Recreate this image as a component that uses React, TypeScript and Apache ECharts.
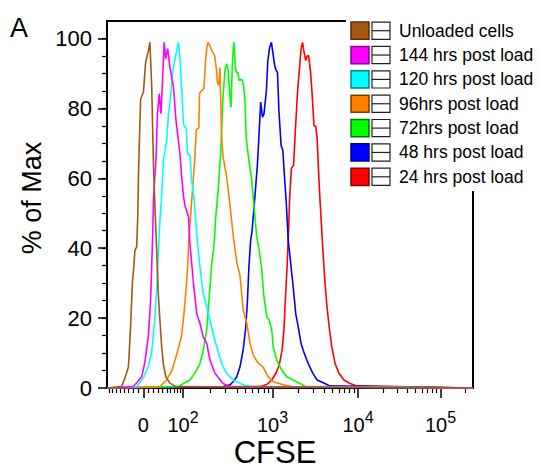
import React, { useEffect, useRef } from 'react';
import * as echarts from 'echarts';

// ---------- data (x = display channel on the biexponential CFSE scale, y = % of max) ----------
const SERIES_NAMES = [
  'Unloaded cells',
  '144 hrs post load',
  '120 hrs post load',
  '96hrs post load',
  '72hrs post load',
  '48 hrs post load',
  '24 hrs post load',
];
const SERIES_COLORS = ['#A5570F', '#FF00FF', '#00FFFF', '#FF8000', '#00FF00', '#0000FF', '#FF0000'];
const LEGEND_BORDERS = ['#5A2E05', '#8A008A', '#008A8A', '#7A3D00', '#007A00', '#000080', '#800000'];

const unloaded = [[0,0],[41,0.4],[53,3.7],[60,6.1],[66,17.5],[71,30],[75,34.7],[78,39.4],[83,40.4],[86,48.9],[88,60.9],[94,82.6],[102,84.7],[108,93.1],[116,96.6],[120,98.9],[125,86.6],[130,63.7],[134,52.3],[139,39.4],[143,28],[148,19.4],[153,11.8],[158,6.6],[165,3.1],[176,1.4],[193,0.4],[1024,0]];
const hrs144 = [[0,0],[74,0.4],[87,2.0],[97,3.2],[106,7.4],[116,15.1],[122,25.1],[125,34.7],[128,44.2],[130,53.7],[134,60.9],[137,65.1],[141,78],[146,84.2],[151,78.5],[155,87.1],[160,98.9],[164,94.2],[170,97.1],[176,91.8],[186,86.1],[193,76.6],[198,72.3],[204,67.1],[209,60.4],[214,54.7],[218,52.3],[228,48.9],[232,41.3],[242,29.9],[251,21.3],[260,18.5],[269,14.7],[279,12.8],[288,8],[302,4.2],[325,1.3],[344,0.4],[1024,0]];
const hrs120 = [[0,0],[83,0.4],[102,2.9],[116,6.3],[125,10.3],[134,20.1],[140,30],[144,39.4],[148,48],[153,55.1],[158,65.1],[167,70.9],[172,78.5],[178,83.2],[184,90.9],[188,92.8],[195,96.6],[200,98.9],[204,94.6],[209,85.7],[214,75.6],[218,74.7],[222,74.3],[225,67.1],[232,66.6],[237,59.4],[244,53.7],[251,44.2],[260,34.7],[269,27.1],[279,23.2],[288,19.4],[297,15.6],[307,11.8],[321,7],[335,4.2],[353,2.3],[381,0.9],[405,0.4],[1024,0]];
const hrs96 = [[0,0],[148,0.4],[167,2.3],[182,5.1],[197,10.3],[209,15.1],[215,20.9],[221,28],[225,33.7],[229,42.3],[234,49.4],[240,57.7],[246,66],[250,74],[257,74.4],[259,84.3],[265,85.1],[271,85.7],[276,93.7],[279,97.4],[283,98.9],[289,97.7],[294,96.3],[301,95.1],[306,91.4],[309,87.4],[313,86.6],[316,91.7],[321,70.9],[325,66],[335,60.3],[344,52.3],[353,43.7],[363,36],[372,32.3],[381,22.3],[391,18.6],[400,12.9],[409,9.4],[423,7.1],[437,6],[451,3.2],[465,1.8],[493,0.9],[517,0.4],[1024,0]];
const hrs72 = [[0,0],[200,0.4],[214,1.3],[232,2.3],[246,4.2],[260,7],[269,10.6],[279,16.6],[286,26.1],[293,35.6],[299,40.4],[305,49.9],[311,56.6],[318,67.1],[324,82.3],[330,90.9],[335,92.8],[339,90.9],[344,83.2],[347,80.3],[351,93.7],[355,98.9],[360,90.9],[363,90.3],[366,90.3],[369,88],[377,88.3],[382,86.6],[386,82.3],[390,70.9],[397,65.1],[405,59.4],[411,52.3],[419,43.2],[426,39.4],[433,33.7],[439,26.1],[447,20.4],[454,19.4],[461,16.6],[465,11.8],[475,8],[489,5.1],[503,3.2],[521,2.3],[540,1.3],[554,0.5],[1024,0]];
const hrs48 = [[0,0],[325,0.4],[344,0.9],[353,1.8],[363,3.2],[372,6],[381,10.9],[388,17.1],[393,25.1],[397,34.7],[402,42.3],[406,45.1],[413,53.7],[421,64.2],[426,73.7],[430,81.8],[435,77.5],[439,78.3],[446,85.1],[450,93.7],[455,97.4],[460,98.9],[464,96],[469,92.3],[473,90.9],[477,90.3],[481,79.4],[487,69.4],[492,68],[496,61.4],[502,52.3],[507,42.3],[514,35.6],[521,28.9],[528,21.3],[535,17.5],[543,12.7],[552,9.9],[563,7],[576,4.2],[588,2.3],[605,1.5],[624,0.6],[1024,0]];
const hrs24 = [[0,0],[428,0.4],[447,1],[461,2.3],[473,4.3],[482,6.6],[490,10.9],[495,16.6],[499,25.1],[504,35.1],[508,45.1],[511,54.3],[516,62.9],[522,63.7],[527,73.7],[533,84.6],[539,92],[543,97.1],[547,98.9],[551,96.3],[556,93.7],[560,95],[564,95.1],[569,90.9],[574,84],[579,75.1],[584,74.9],[588,71.4],[592,61.7],[596,53.7],[604,39.4],[610,30],[615,23.7],[622,17.1],[629,11.7],[638,7],[649,4.2],[663,2.3],[680,1.3],[699,0.6],[1024,0]];
const SERIES_DATA = [unloaded, hrs144, hrs120, hrs96, hrs72, hrs48, hrs24];

// ---------- biexponential axis definition ----------
const CHANNEL_MAX = 1024;
const ANCHOR_VALUES = [0, 1e2, 1e3, 1e4, 1e5];
const ANCHOR_CHANNELS = [101.6, 212.6, 463, 702.2, 933.1];
const LINEAR_WIDTH = 60;
const MAJOR_LABELS = ['{b|0}', '{b|10}{s|2}', '{b|10}{s|3}', '{b|10}{s|4}', '{b|10}{s|5}'];
const Y_MAJOR = [0, 20, 40, 60, 80, 100];

function toChannel(v: number): number {
  const c0 = ANCHOR_CHANNELS[0];
  const c100 = ANCHOR_CHANNELS[1];
  const a = Math.abs(v);
  if (a < 100) {
    const f = Math.asinh(a / LINEAR_WIDTH) / Math.asinh(100 / LINEAR_WIDTH);
    return c0 + Math.sign(v) * f * (c100 - c0);
  }
  if (v < 0) return c0 - (toChannel(a) - c0);
  let i = 1;
  while (i < ANCHOR_VALUES.length - 2 && v >= ANCHOR_VALUES[i + 1]) i++;
  const lo = Math.log10(ANCHOR_VALUES[i]);
  const width = ANCHOR_CHANNELS[i + 1] - ANCHOR_CHANNELS[i];
  return ANCHOR_CHANNELS[i] + (Math.log10(v) - lo) * width;
}

const MAJOR_CH = ANCHOR_VALUES.map(toChannel);
const MINOR_CH: number[] = [];
for (let k = 1; k <= 9; k++) {
  MINOR_CH.push(toChannel(k * 10));
  MINOR_CH.push(toChannel(-k * 10));
}
[1e2, 1e3, 1e4, 1e5].forEach((d) => {
  for (let k = 2; k <= 9; k++) MINOR_CH.push(toChannel(k * d));
});
const MINOR_X = MINOR_CH.filter((c) => c >= 0 && c <= CHANNEL_MAX);
const Y_MINOR: number[] = [];
for (let v = 5; v < 105; v += 5) Y_MINOR.push(v);

const FONT = 'Liberation Sans, Arial, Helvetica, sans-serif';

export default function App() {
  const ref = useRef<HTMLDivElement>(null);
  useEffect(() => {
    if (!ref.current) return;
    const chart = echarts.init(ref.current, undefined, { renderer: 'svg' });

    const legendEls: any[] = [];
    SERIES_NAMES.forEach((name, i) => {
      const cy = 30.7 + 24.35 * i;
      legendEls.push({
        type: 'rect', z: 101,
        shape: { x: 351, y: cy - 8.6, width: 18, height: 17.2 },
        style: { fill: SERIES_COLORS[i], stroke: LEGEND_BORDERS[i], lineWidth: 1.5 },
      });
      legendEls.push({
        type: 'rect', z: 101,
        shape: { x: 372, y: cy - 8.6, width: 18, height: 17.2 },
        style: { fill: '#fff', stroke: '#222', lineWidth: 1.2 },
      });
      legendEls.push({
        type: 'line', z: 101,
        shape: { x1: 372, y1: cy, x2: 390, y2: cy },
        style: { stroke: '#222', lineWidth: 1.2 },
      });
      legendEls.push({
        type: 'text', z: 101, x: 399, y: cy,
        style: { text: name, fill: '#000', fontSize: 17.5, fontFamily: FONT, textVerticalAlign: 'middle' },
      });
    });

    const series = SERIES_DATA.map((d, i) => ({
      name: SERIES_NAMES[i],
      type: 'line',
      data: d,
      showSymbol: false,
      silent: true,
      xAxisIndex: 0,
      yAxisIndex: 0,
      lineStyle: { color: SERIES_COLORS[i], width: 1.6 },
      itemStyle: { color: SERIES_COLORS[i] },
    })).reverse();

    chart.setOption({
      animation: false,
      backgroundColor: '#fff',
      grid: {
        left: 107, right: 68, top: 21, bottom: 80,
        show: true, borderColor: '#000', borderWidth: 2, backgroundColor: 'transparent',
      },
      xAxis: [
        {
          type: 'value', min: 0, max: CHANNEL_MAX, position: 'bottom',
          axisLine: { show: true, lineStyle: { color: '#000', width: 2 } },
          axisTick: { show: true, customValues: MAJOR_CH, length: 10, lineStyle: { color: '#000', width: 1.5 } },
          splitLine: { show: false },
          axisLabel: {
            customValues: MAJOR_CH, margin: 21, color: '#000',
            formatter: (val: number) => {
              const idx = MAJOR_CH.findIndex((c) => Math.abs(c - val) < 0.5);
              return idx >= 0 ? MAJOR_LABELS[idx] : '';
            },
            rich: {
              b: { fontSize: 20, fontFamily: FONT, color: '#000', lineHeight: 26, verticalAlign: 'bottom' },
              s: { fontSize: 16, fontFamily: FONT, color: '#000', lineHeight: 14, verticalAlign: 'top' },
            },
          },
        },
        {
          type: 'value', min: 0, max: CHANNEL_MAX, position: 'bottom', offset: 0,
          axisLine: { show: false },
          axisTick: { show: true, customValues: MINOR_X, length: 5, lineStyle: { color: '#000', width: 1.2 } },
          axisLabel: { show: false },
          splitLine: { show: false },
        },
      ],
      yAxis: [
        {
          type: 'value', min: 0, max: 105, position: 'left',
          axisLine: { show: true, lineStyle: { color: '#000', width: 2 } },
          axisTick: { show: true, customValues: Y_MAJOR, length: 9, lineStyle: { color: '#000', width: 1.5 } },
          axisLabel: { customValues: Y_MAJOR, margin: 15, fontSize: 22, fontFamily: FONT, color: '#000' },
          splitLine: { show: false },
        },
        {
          type: 'value', min: 0, max: 105, position: 'left', offset: 0,
          axisLine: { show: false },
          axisTick: { show: true, customValues: Y_MINOR, length: 5, lineStyle: { color: '#000', width: 1.2 } },
          axisLabel: { show: false },
          splitLine: { show: false },
        },
      ],
      series,
      graphic: [
        {
          type: 'rect', z: 100,
          shape: { x: 346, y: 0, width: 195, height: 191 },
          style: { fill: '#fff' },
        },
        ...legendEls,
        {
          type: 'text', z: 100, x: 10, y: 14,
          style: { text: 'A', fill: '#000', fontSize: 27, fontFamily: FONT },
        },
        {
          type: 'text', z: 100, x: 32, y: 198, rotation: Math.PI / 2,
          style: { text: '% of Max', fill: '#000', fontSize: 27, fontFamily: FONT, textAlign: 'center', textVerticalAlign: 'middle' },
        },
        {
          type: 'text', z: 100, x: 275, y: 452,
          style: { text: 'CFSE', fill: '#000', fontSize: 31, fontFamily: FONT, textAlign: 'center', textVerticalAlign: 'middle' },
        },
      ],
    });
    return () => chart.dispose();
  }, []);
  return <div ref={ref} style={{ position: 'absolute', left: 0, top: 0, width: 541, height: 468 }} />;
}
